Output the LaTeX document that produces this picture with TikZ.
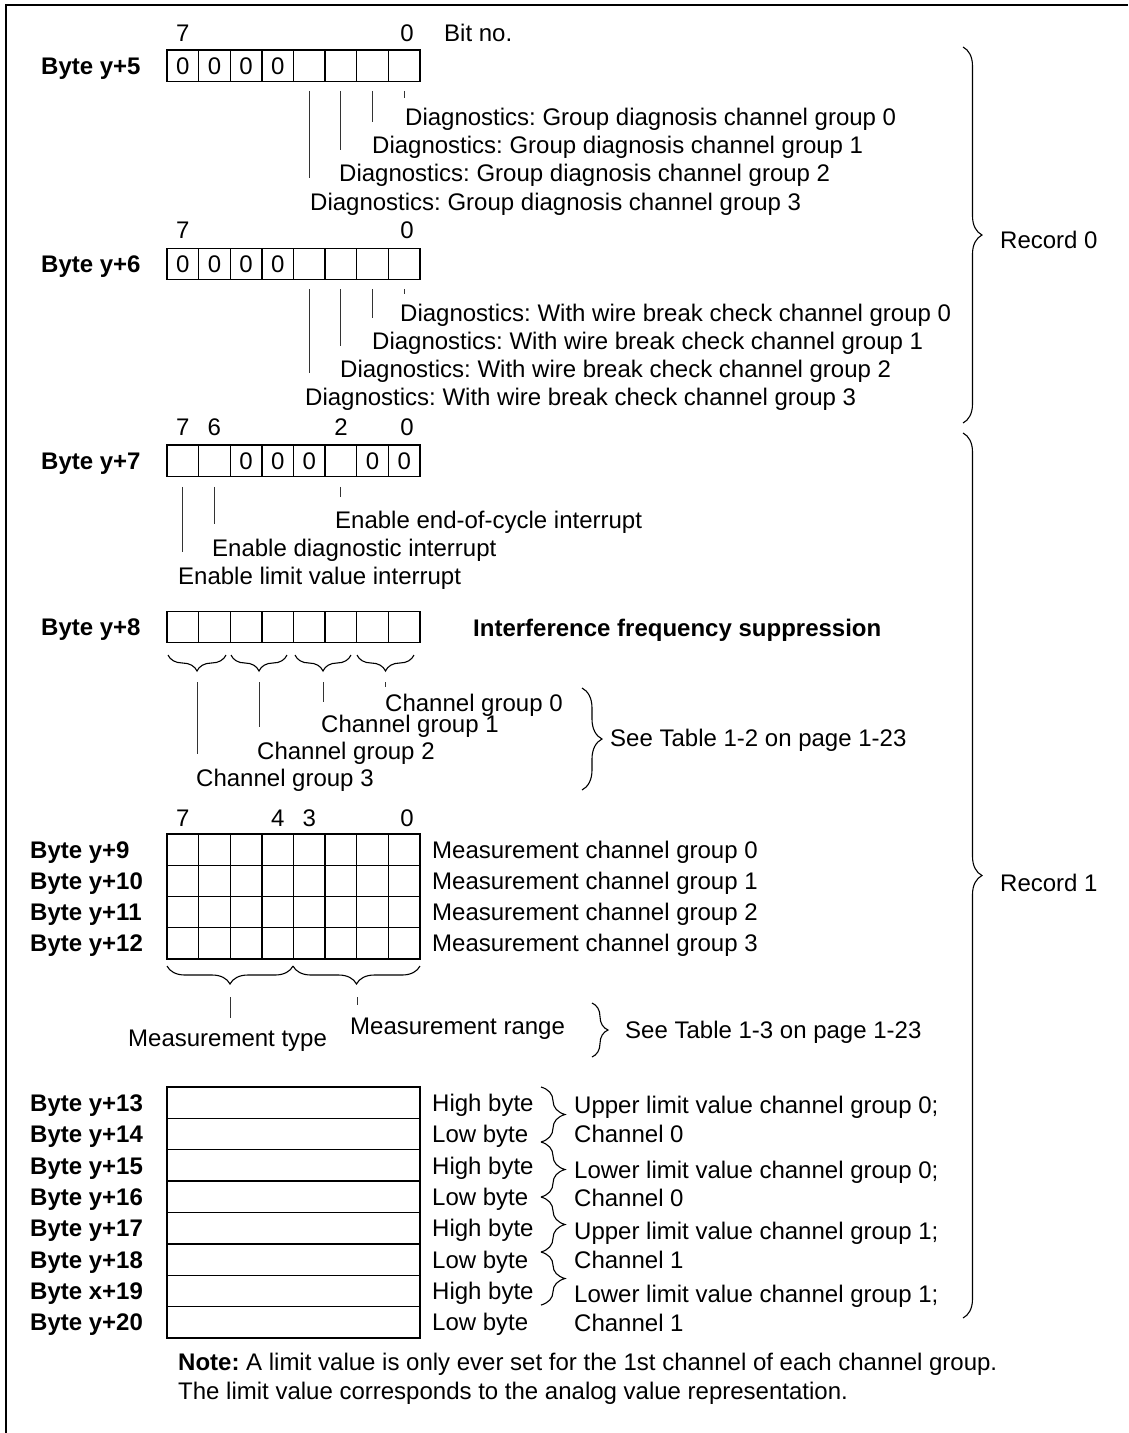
\documentclass[tikz,border=0pt]{standalone}
\usepackage{fontspec}
\setmainfont{Liberation Sans}
\usetikzlibrary{decorations.pathreplacing,calc}
\frenchspacing
\begin{document}
\begin{tikzpicture}[x=1pt,y=-1pt,
  every node/.style={inner sep=0pt,font=\fontsize{24}{28}\selectfont},
  txt/.style={anchor=west,text height=17.2pt,text depth=0pt},
  btxt/.style={txt,font=\fontsize{24}{28}\selectfont\bfseries},
  num/.style={anchor=center,text height=17.2pt,text depth=0pt},
  cell/.style={draw,line width=1.3pt,minimum width=31.625pt,minimum height=31.3pt,
               text height=17.2pt,text depth=0pt,anchor=center},
  wcell/.style={cell,minimum width=253pt,minimum height=31.375pt},
  lead/.style={line width=0.9pt,draw=black!80},
  brc/.style={decorate,decoration={brace,amplitude=#1},line width=1.1pt},
  mbrc/.style={decorate,decoration={brace,mirror,amplitude=#1},line width=1.1pt},
]
\useasboundingbox (0,0) rectangle (1128,1433);
% frame
\draw[line width=1.3pt] (6,1433) -- (6,5) -- (1128,5);

% ---------- Byte y+5 ----------
\node[num] (a-n7) at (182.8,33) {7};
\node[num] (a-n0) at (407,33) {0};
\node[txt] (bitno) at (444,33) {Bit no.};
\node[btxt] (lb5) at (41,65.5) {Byte y+5};
\foreach \k/\v in {0/0,1/0,2/0,3/0,4/{},5/{},6/{},7/{}}
  \node[cell] (a\k) at ({167+31.625*(\k+0.5)},65.5) {\v};
\node[txt] (ag0) at (405,117) {Diagnostics: Group diagnosis channel group 0};
\node[txt] (ag1) at (372,145) {Diagnostics: Group diagnosis channel group 1};
\node[txt] (ag2) at (339,173) {Diagnostics: Group diagnosis channel group 2};
\node[txt] (ag3) at (310,202) {Diagnostics: Group diagnosis channel group 3};
\draw[lead] ($(a7.south)+(0,9)$) -- ($(a7.south |- ag0.north)+(0,-10)$);
\draw[lead] ($(a6.south)+(0,9)$) -- ($(a6.south |- ag1.north)+(0,-14)$);
\draw[lead] ($(a5.south)+(0,9)$) -- ($(a5.south |- ag2.north)+(0,-14)$);
\draw[lead] ($(a4.south)+(0,9)$) -- ($(a4.south |- ag3.north)+(0,-15)$);

% ---------- Byte y+6 ----------
\node[num] (b-n7) at (182.8,230) {7};
\node[num] (b-n0) at (407,230) {0};
\node[btxt] (lb6) at (41,264) {Byte y+6};
\foreach \k/\v in {0/0,1/0,2/0,3/0,4/{},5/{},6/{},7/{}}
  \node[cell] (b\k) at ({167+31.625*(\k+0.5)},264) {\v};
\node[txt] (bg0) at (400,313) {Diagnostics: With wire break check channel group 0};
\node[txt] (bg1) at (372,341) {Diagnostics: With wire break check channel group 1};
\node[txt] (bg2) at (340,369) {Diagnostics: With wire break check channel group 2};
\node[txt] (bg3) at (305,397) {Diagnostics: With wire break check channel group 3};
\draw[lead] ($(b7.south)+(0,9)$) -- ($(b7.south |- bg0.north)+(0,-10)$);
\draw[lead] ($(b6.south)+(0,9)$) -- ($(b6.south |- bg1.north)+(0,-14)$);
\draw[lead] ($(b5.south)+(0,9)$) -- ($(b5.south |- bg2.north)+(0,-14)$);
\draw[lead] ($(b4.south)+(0,9)$) -- ($(b4.south |- bg3.north)+(0,-15)$);

% ---------- Byte y+7 ----------
\node[num] (c-n7) at (182.8,427) {7};
\node[num] (c-n6) at (214.4,427) {6};
\node[num] (c-n2) at (341,427) {2};
\node[num] (c-n0) at (407,427) {0};
\node[btxt] (lb7) at (41,460.5) {Byte y+7};
\foreach \k/\v in {0/{},1/{},2/0,3/0,4/0,5/{},6/0,7/0}
  \node[cell] (c\k) at ({167+31.625*(\k+0.5)},460.5) {\v};
\node[txt] (ce2) at (335,520) {Enable end-of-cycle interrupt};
\node[txt] (ce6) at (212,548) {Enable diagnostic interrupt};
\node[txt] (ce7) at (178,576) {Enable limit value interrupt};
\draw[lead] ($(c5.south)+(0,10)$) -- ($(c5.south |- ce2.north)+(0,-14)$);
\draw[lead] ($(c1.south)+(0,10)$) -- ($(c1.south |- ce6.north)+(0,-15)$);
\draw[lead] ($(c0.south)+(0,10)$) -- ($(c0.south |- ce7.north)+(0,-15)$);

% ---------- Byte y+8 ----------
\node[btxt] (lb8) at (41,627) {Byte y+8};
\foreach \k in {0,...,7}
  \node[cell] (d\k) at ({167+31.625*(\k+0.5)},627) {};
\node[btxt] (ifs) at (473,628) {Interference frequency suppression};
\coordinate (e3a) at (168,655); \coordinate (e3b) at (226,655);
\coordinate (e2a) at (231,655); \coordinate (e2b) at (287,655);
\coordinate (e1a) at (295,655); \coordinate (e1b) at (351,655);
\coordinate (e0a) at (357,655); \coordinate (e0b) at (414,655);
\draw[mbrc=16] (e3a) -- (e3b);
\draw[mbrc=16] (e2a) -- (e2b);
\draw[mbrc=16] (e1a) -- (e1b);
\draw[mbrc=16] (e0a) -- (e0b);
\node[txt] (cg0) at (385,703) {Channel group 0};
\node[txt] (cg1) at (321,724) {Channel group 1};
\node[txt] (cg2) at (257,751) {Channel group 2};
\node[txt] (cg3) at (196,778) {Channel group 3};
\coordinate (t3) at (197,682); \coordinate (t2) at (259,682);
\coordinate (t1) at (323,682); \coordinate (t0) at (385.5,682);
\draw[lead] (t0) -- ($(t0)+(0,5)$);
\draw[lead] (t1) -- ($(t1 |- cg1.north)+(0,-13)$);
\draw[lead] (t2) -- ($(t2 |- cg2.north)+(0,-15)$);
\draw[lead] (t3) -- ($(t3 |- cg3.north)+(0,-15)$);
\coordinate (g0a) at (582,688); \coordinate (g0b) at (582,790);
\draw[brc=20] (g0a) -- (g0b);
\node[txt] (see12) at (610,738) {See Table 1-2 on page 1-23};

% ---------- Bytes y+9 .. y+12 ----------
\node[num] (m-n7) at (182.8,818) {7};
\node[num] (m-n4) at (277.7,818) {4};
\node[num] (m-n3) at (309.3,818) {3};
\node[num] (m-n0) at (407,818) {0};
\foreach \r/\b in {0/9,1/10,2/11,3/12}{
  \node[btxt] (lm\r) at (30,{834+31.25*(\r+0.5)}) {Byte y+\b};
  \foreach \k in {0,...,7}
    \node[cell,minimum height=31.25pt] (m\r-\k) at ({167+31.625*(\k+0.5)},{834+31.25*(\r+0.5)}) {};
  \node[txt] (mc\r) at (432,{834+31.25*(\r+0.5)}) {Measurement channel group \r};
}
\coordinate (f0a) at (167,966); \coordinate (f0b) at (293,966);
\coordinate (f1a) at (293,966); \coordinate (f1b) at (420,966);
\draw[mbrc=18] (f0a) -- (f0b);
\draw[mbrc=18] (f1a) -- (f1b);
\node[txt] (mtype) at (128,1038) {Measurement type};
\node[txt] (mrange) at (350,1026) {Measurement range};
\coordinate (tm) at (230,997); \coordinate (tr) at (357,997);
\draw[lead] (tm) -- ($(tm |- mtype.north)+(0,-11)$);
\draw[lead] (tr) -- ($(tr)+(0,8)$);
\coordinate (g1a) at (592,1003); \coordinate (g1b) at (592,1057);
\draw[brc=16] (g1a) -- (g1b);
\node[txt] (see13) at (625,1030) {See Table 1-3 on page 1-23};

% ---------- Bytes y+13 .. y+20 ----------
\foreach \r/\b/\hl in {0/y+13/High,1/y+14/Low,2/y+15/High,3/y+16/Low,
                       4/y+17/High,5/y+18/Low,6/x+19/High,7/y+20/Low}{
  \node[btxt] (ll\r) at (30,{1087+31.375*(\r+0.5)}) {Byte \b};
  \node[wcell] (L\r) at (293.5,{1087+31.375*(\r+0.5)}) {};
  \node[txt] (hl\r) at (432,{1087+31.375*(\r+0.5)}) {\hl\ byte};
}
\coordinate (h0) at (541,1087); \coordinate (h1) at (541,1142);
\coordinate (h2) at (541,1197); \coordinate (h3) at (541,1252);
\coordinate (h4) at (541,1305);
\draw[brc=24] (h0) -- (h1);
\draw[brc=24] (h1) -- (h2);
\draw[brc=24] (h2) -- (h3);
\draw[brc=24] (h3) -- (h4);
\node[txt] (lv0) at (574,1105) {Upper limit value channel group 0;};
\node[txt] (lv0c) at (574,1134) {Channel 0};
\node[txt] (lv1) at (574,1170) {Lower limit value channel group 0;};
\node[txt] (lv1c) at (574,1198) {Channel 0};
\node[txt] (lv2) at (574,1231) {Upper limit value channel group 1;};
\node[txt] (lv2c) at (574,1260) {Channel 1};
\node[txt] (lv3) at (574,1294) {Lower limit value channel group 1;};
\node[txt] (lv3c) at (574,1323) {Channel 1};

% ---------- records ----------
\coordinate (rA) at (963,47);  \coordinate (rB) at (963,423);
\coordinate (rC) at (963,433); \coordinate (rD) at (963,1318);
\draw[brc=19] (rA) -- (rB);
\draw[brc=19] (rC) -- (rD);
\node[txt] (rec0) at (1000,240) {Record 0};
\node[txt] (rec1) at (1000,883) {Record 1};

% ---------- note ----------
\node[txt] (note1) at (178,1362) {\textbf{Note:} A limit value is only ever set for the 1st channel of each channel group.};
\node[txt] (note2) at (178,1391) {The limit value corresponds to the analog value representation.};
\end{tikzpicture}
\end{document}
